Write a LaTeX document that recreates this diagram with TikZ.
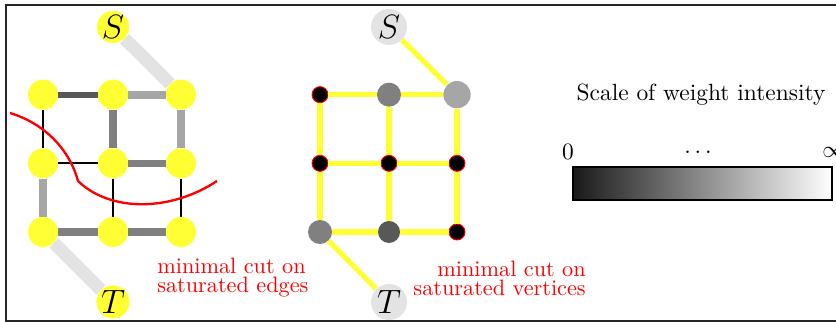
\documentclass[tikz,border=0pt]{standalone}
\usepackage{amsmath}
\usepackage{tikz}
\usetikzlibrary{positioning,shapes.geometric}
\definecolor{nodeYellow}{RGB}{255,255,51}
\definecolor{terminalGray}{RGB}{227,227,227}
\definecolor{paleGray}{RGB}{166,166,166}
\definecolor{midGray}{RGB}{128,128,128}
\definecolor{darkGray}{RGB}{88,88,88}
\definecolor{cutRed}{RGB}{255,0,0}
\colorlet{ink}{black!85}
\tikzset{
  ynode/.style={circle, fill=nodeYellow, minimum size=0.45cm, inner sep=0pt},
  yterm/.style={circle, fill=nodeYellow, minimum size=0.48cm, inner sep=0pt, font=\Large},
  gterm/.style={circle, fill=terminalGray, minimum size=0.54cm, inner sep=0pt, font=\Large},
  cutnode/.style={circle, fill=black, draw=cutRed, line width=0.4pt, minimum size=0.24cm, inner sep=0pt},
  wnode/.style={circle, inner sep=0pt},
  thinedge/.style={draw=black, line width=0.85pt},
  wedge/.style={line width=3pt},
  termedge/.style={draw=terminalGray, line width=5.5pt},
  yedge/.style={draw=nodeYellow, line width=2.2pt},
  cutnote/.style={text=cutRed, font=\fontsize{9.5}{8.1}\selectfont}
}

\begin{document}
\begin{tikzpicture}[x=1cm,y=1cm]
  \useasboundingbox (0,0) rectangle (12.54,4.83);
  \draw[line width=0.8pt, draw=ink] (0.09,0.015) rectangle (12.9,4.755);

  % cut on saturated edges
  \node[yterm] (eS) at (1.695,4.425) {$S$};
  \node[yterm] (eT) at (1.695,0.30) {$T$};
  \node[ynode] (e00) at (0.645,3.41) {};
  \node[ynode] (e10) at (1.695,3.41) {};
  \node[ynode] (e20) at (2.715,3.41) {};
  \node[ynode] (e01) at (0.645,2.38) {};
  \node[ynode] (e11) at (1.695,2.38) {};
  \node[ynode] (e21) at (2.715,2.38) {};
  \node[ynode] (e02) at (0.645,1.35) {};
  \node[ynode] (e12) at (1.695,1.35) {};
  \node[ynode] (e22) at (2.715,1.35) {};

  \draw[termedge] (eS) -- (e20);
  \draw[termedge] (e02) -- (eT);
  \draw[wedge, draw=darkGray, line width=2.6pt] (e00) -- (e10);
  \draw[wedge, draw=paleGray, line width=3.4pt] (e10) -- (e20);
  \draw[thinedge] (e00) -- (e01);
  \draw[wedge, draw=midGray] (e10) -- (e11);
  \draw[wedge, draw=paleGray] (e20) -- (e21);
  \draw[thinedge] (e01) -- (e11);
  \draw[wedge, draw=midGray] (e11) -- (e21);
  \draw[wedge, draw=paleGray, line width=3.4pt] (e01) -- (e02);
  \draw[thinedge] (e11) -- (e12);
  \draw[thinedge] (e21) -- (e22);
  \draw[wedge, draw=midGray] (e02) -- (e12);
  \draw[wedge, draw=midGray] (e12) -- (e22);

  \draw[cutRed, line width=1pt] (0.15,3.135) .. controls (0.6,3.0) and (1.02,2.655) .. (1.17,2.115)
    .. controls (1.65,1.65) and (2.55,1.65) .. (3.255,2.115);

  \node[cutnote, align=left, anchor=west] (edgenote) at (2.235,0.66) {minimal cut on\\saturated edges};

  % cut on saturated vertices
  \node[gterm] (vS) at (5.835,4.425) {$S$};
  \node[gterm] (vT) at (5.835,0.30) {$T$};
  \node[cutnode] (v00) at (4.80,3.41) {};
  \node[wnode, fill=midGray, minimum size=0.36cm] (v10) at (5.835,3.41) {};
  \node[wnode, fill=paleGray, minimum size=0.41cm] (v20) at (6.855,3.41) {};
  \node[cutnode] (v01) at (4.80,2.38) {};
  \node[cutnode] (v11) at (5.835,2.38) {};
  \node[cutnode] (v21) at (6.855,2.38) {};
  \node[wnode, fill=midGray, minimum size=0.36cm] (v02) at (4.80,1.35) {};
  \node[wnode, fill=darkGray, minimum size=0.33cm] (v12) at (5.835,1.35) {};
  \node[cutnode] (v22) at (6.855,1.35) {};

  \draw[yedge] (vS) -- (v20);
  \draw[yedge] (v02) -- (vT);
  \draw[yedge] (v00) -- (v10);
  \draw[yedge] (v10) -- (v20);
  \draw[yedge] (v01) -- (v11);
  \draw[yedge] (v11) -- (v21);
  \draw[yedge] (v02) -- (v12);
  \draw[yedge] (v12) -- (v22);
  \draw[yedge] (v00) -- (v01);
  \draw[yedge] (v01) -- (v02);
  \draw[yedge] (v10) -- (v11);
  \draw[yedge] (v11) -- (v12);
  \draw[yedge] (v20) -- (v21);
  \draw[yedge] (v21) -- (v22);

  \node[cutnote, align=right, anchor=east] (vertexnote) at (8.91,0.66) {minimal cut on\\saturated vertices};

  % weight scale
  \node (scaletitle) at (10.515,3.405) {Scale of weight intensity};
  \node[draw=black, line width=0.5pt, left color=black!90, right color=white, minimum width=3.885cm, minimum height=0.495cm, inner sep=0pt] (scalebar) at (10.5375,2.0775) {};
  \node (zero) at (8.52,2.55) {0};
  \node (dots) at (10.47,2.55) {$\ldots$};
  \node (infty) at (12.51,2.55) {$\infty$};
\end{tikzpicture}
\end{document}
